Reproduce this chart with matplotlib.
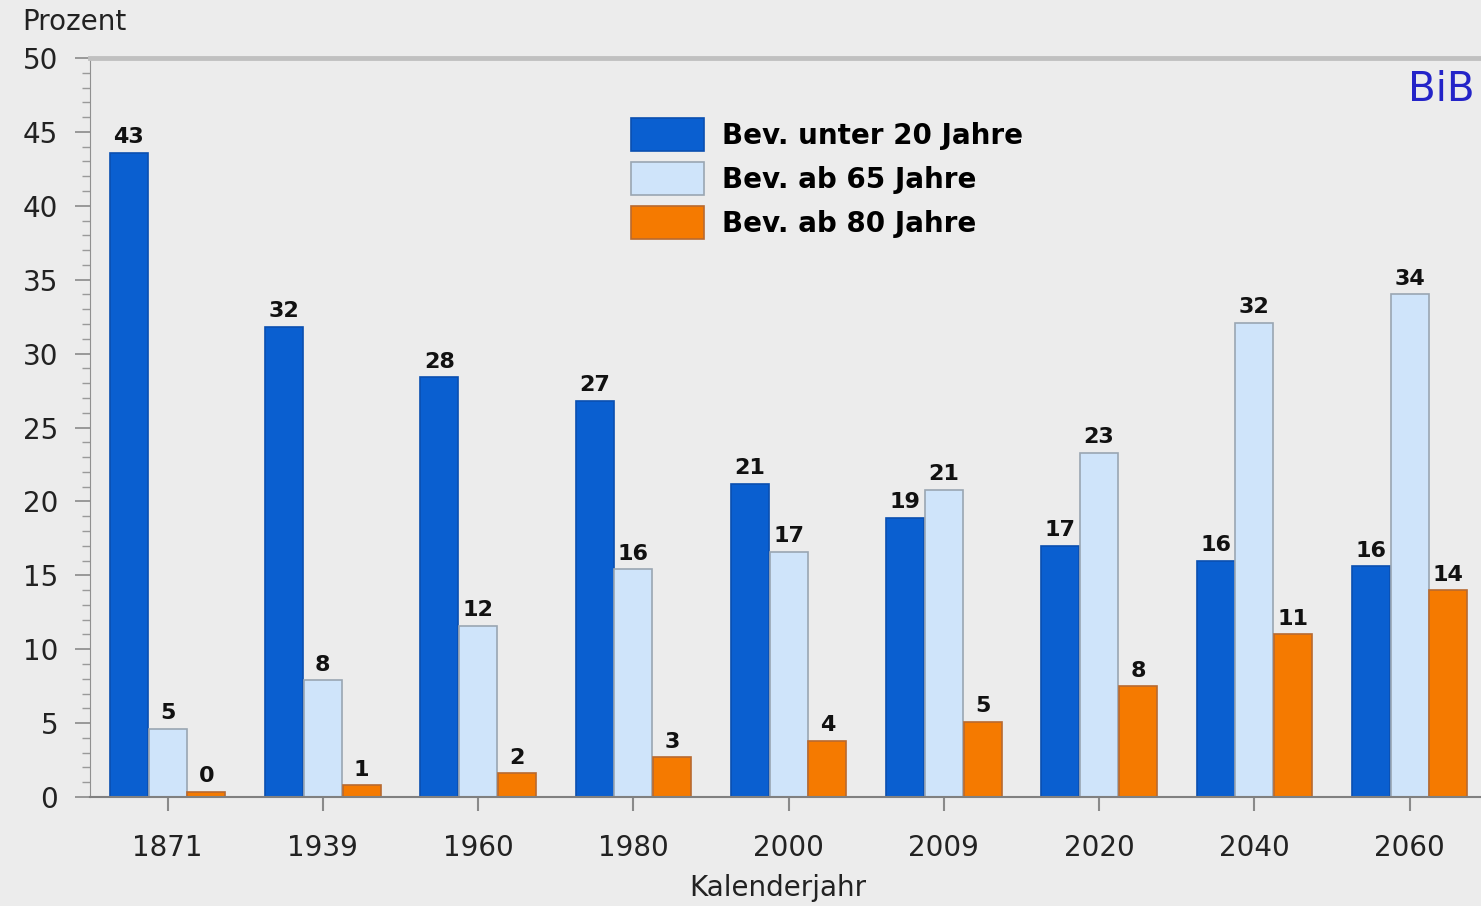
import matplotlib as mpl
mpl.use('Agg')
import matplotlib.pyplot as plt
import numpy as np

years = ['1871', '1939', '1960', '1980', '2000', '2009', '2020', '2040', '2060']
unter20 = [43.6, 31.8, 28.4, 26.8, 21.2, 18.9, 17.0, 16.0, 15.6]
ab65 = [4.6, 7.9, 11.6, 15.4, 16.6, 20.8, 23.3, 32.1, 34.0]
ab80 = [0.35, 0.8, 1.6, 2.7, 3.8, 5.1, 7.5, 11.0, 14.0]
labels_unter20 = ['43', '32', '28', '27', '21', '19', '17', '16', '16']
labels_ab65 = ['5', '8', '12', '16', '17', '21', '23', '32', '34']
labels_ab80 = ['0', '1', '2', '3', '4', '5', '8', '11', '14']
series_names = ['Bev. unter 20 Jahre', 'Bev. ab 65 Jahre', 'Bev. ab 80 Jahre']

bg = '#ececec'
mpl.rc('font', family='DejaVu Sans')

fig = plt.figure(figsize=(14.81, 9.06), dpi=100, facecolor=bg)
ax = fig.add_axes([90 / 1481, 1 - 797 / 906, 1 - 90 / 1481, (797 - 58) / 906])
ax.set_facecolor(bg)

x = np.arange(len(years))
w = 0.25
series = [
    (unter20, labels_unter20, -w, '#0a5fd0', '#0a4fb0'),
    (ab65, labels_ab65, 0, '#cfe4fa', '#9aa6b2'),
    (ab80, labels_ab80, w, '#f57a00', '#b86a30'),
]
for (vals, labs, off, fc, ec), name in zip(series, series_names):
    bars = ax.bar(x + off, vals, width=w - 0.005, color=fc, edgecolor=ec,
                  linewidth=1.2, label=name, zorder=2)
    for b, lab in zip(bars, labs):
        ax.annotate(lab, xy=(b.get_x() + b.get_width() / 2, b.get_height()),
                    xytext=(0, 4), textcoords='offset points',
                    ha='center', va='bottom', fontsize=16, fontweight='bold',
                    color='#111111')

ax.set_xlim(-0.5, (1481 - 168) / 155.2)
ax.set_ylim(0, 50)
ax.set_xticks(x)
ax.set_xticklabels(years, fontsize=20, color='#222222')
ax.set_yticks(np.arange(0, 51, 5))
ax.set_yticks(np.arange(0, 51, 1), minor=True)
ax.tick_params(axis='y', which='major', length=11, width=1.2, color='#8a8a8a',
               labelsize=20, pad=12, labelcolor='#222222')
ax.tick_params(axis='y', which='minor', length=6, width=1, color='#9a9a9a')
ax.tick_params(axis='x', which='major', length=10, width=1.5, color='#8a8a8a', pad=17)

ax.spines['right'].set_visible(False)
ax.spines['left'].set_color('#909090')
ax.spines['bottom'].set_color('#808080')
ax.spines['bottom'].set_linewidth(1.5)
ax.spines['top'].set_color('#c0c0c0')
ax.spines['top'].set_linewidth(3.5)

fig.text(22 / 1481, 1 - 22 / 906, 'Prozent', fontsize=20, va='center', ha='left', color='#222222')
fig.text(778 / 1481, 1 - 888 / 906, 'Kalenderjahr', fontsize=20, va='center', ha='center', color='#222222')
fig.text(1475 / 1481, 1 - 90 / 906, 'BiB', fontsize=29, va='center', ha='right', color='#2424c8')

fig.legend(loc='upper left', bbox_to_anchor=(631 / 1481, 1 - 118 / 906),
           frameon=False, borderpad=0, borderaxespad=0, handlelength=2.63,
           handleheight=1.45, labelspacing=0.4, handletextpad=0.65,
           prop={'size': 20, 'weight': 'bold'})

plt.savefig('out.png', dpi=100, facecolor=bg)
